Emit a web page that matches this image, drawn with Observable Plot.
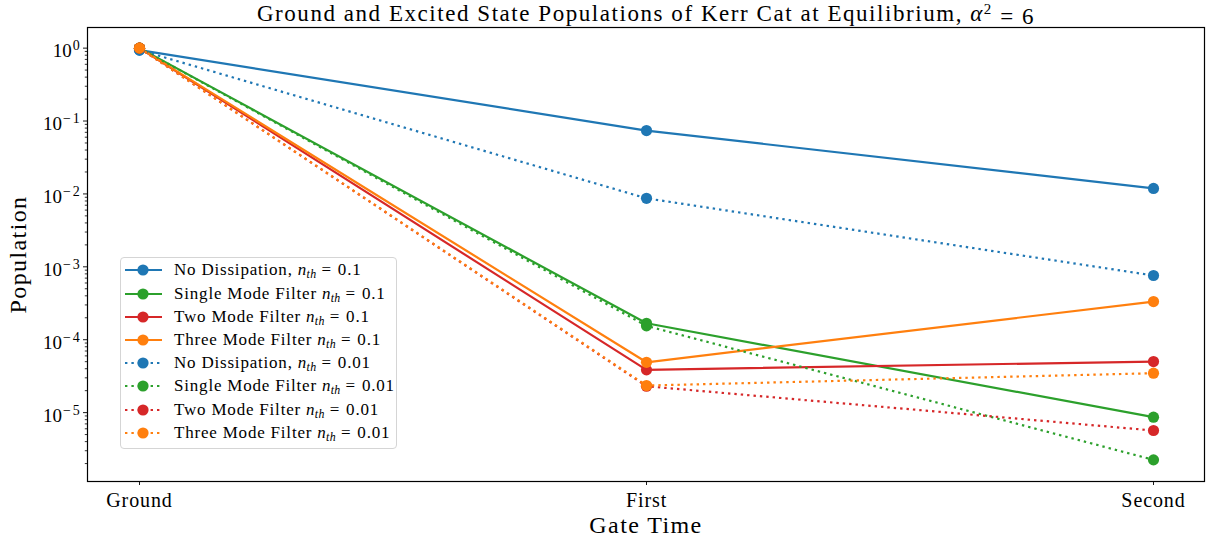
<!DOCTYPE html>
<html><head><meta charset="utf-8">
<script src="https://cdn.jsdelivr.net/npm/d3@7"></script>
<script src="https://cdn.jsdelivr.net/npm/@observablehq/plot@0.6"></script>
<style>
body{margin:0;background:#fff}
#wrap{position:relative;width:1211px;height:546px;font-family:"Liberation Serif",serif;color:#000}
#legend{position:absolute;left:120px;top:257px;width:277px;height:192px;border:1px solid #d5d5d5;border-radius:4px;background:rgba(255,255,255,0.8);box-sizing:border-box}
.row{position:absolute;left:0;height:20px;width:100%}
.row svg{position:absolute;left:2px;top:0}
.row span{position:absolute;left:53px;top:0;line-height:20px;font-size:17px;letter-spacing:0.8px;white-space:nowrap}
.row i{letter-spacing:0.3px}
.row .eq{margin:0 6px 0 5px}
sub{font-size:70%;vertical-align:-3px;line-height:0}
</style></head>
<body><div id="wrap"></div>
<script>
const categories = ["Ground", "First", "Second"];
const noDiss01   = [0.94, 0.074, 0.0119];
const single01   = [1.0, 1.68e-4, 8.65e-6];
const two01      = [1.0, 3.86e-5, 5.02e-5];
const three01    = [1.0, 4.9e-5, 3.34e-4];
const noDiss001  = [0.94, 8.7e-3, 7.6e-4];
const single001  = [1.0, 1.55e-4, 2.25e-6];
const two001     = [1.0, 2.3e-5, 5.68e-6];
const three001   = [1.0, 2.35e-5, 3.47e-5];
const seriesNames = ["No Dissipation,", "Single Mode Filter", "Two Mode Filter", "Three Mode Filter",
                     "No Dissipation,", "Single Mode Filter", "Two Mode Filter", "Three Mode Filter"];
const nthValues = ["0.1","0.1","0.1","0.1","0.01","0.01","0.01","0.01"];
const majorTicks = [1, 1e-1, 1e-2, 1e-3, 1e-4, 1e-5];
const majorExponents = ["0","−1","−2","−3","−4","−5"];
const titleText = "Ground and Excited State Populations of Kerr Cat at Equilibrium, ";
const titleMath = ["α", "2", " = 6"];
const xLabel = "Gate Time";
const yLabel = "Population";

const colors = ["#1f77b4","#2ca02c","#d62728","#ff7f0e","#1f77b4","#2ca02c","#d62728","#ff7f0e"];
const allValues = [noDiss01, single01, two01, three01, noDiss001, single001, two001, three001];
const series = allValues.map((v, i) => ({
  name: seriesNames[i], nth: nthValues[i], color: colors[i], dotted: i >= 4,
  data: categories.map((c, j) => ({cat: c, value: v[j]}))
}));
const minorTicks = [];
for (let k = -6; k <= 0; k++) for (let m = 2; m <= 9; m++) {
  const t = m * 10 ** k; if (t > 1.135e-6 && t < 1.92) minorTicks.push(t);
}
const DASH = "2.4,4";
const R = 5.6;
const marks = [
  Plot.axisY({ticks: minorTicks, tickSize: 2.2, tickFormat: () => "", strokeWidth: 0.8}),
  Plot.axisY({ticks: majorTicks, tickSize: 4, tickFormat: () => "", strokeWidth: 0.9}),
  Plot.text(majorTicks, {y: d => d, text: d => "10|" + majorExponents[majorTicks.indexOf(d)],
    frameAnchor: "left", textAnchor: "end", dx: -6, dy: 3, fontSize: 19}),
  Plot.axisX({tickSize: 4, tickPadding: 7, fontSize: 20, strokeWidth: 0.9})
];
for (const s of series) {
  marks.push(Plot.line(s.data, {x: "cat", y: "value", stroke: s.color, strokeWidth: 2.2,
    strokeDasharray: s.dotted ? DASH : null, strokeLinecap: "butt"}));
  marks.push(Plot.dot(s.data, {x: "cat", y: "value", fill: s.color, r: R, stroke: "none"}));
}
marks.push(Plot.frame({stroke: "black", strokeWidth: 1.2}));
marks.push(Plot.text([titleText], {text: d => d, frameAnchor: "top", lineAnchor: "middle", textAnchor: "middle",
  dy: -14, fontSize: 23}));
marks.push(Plot.text([yLabel], {text: d => d, frameAnchor: "left", textAnchor: "middle", lineAnchor: "middle",
  dx: -69, rotate: -90, fontSize: 24}));
marks.push(Plot.text([xLabel], {text: d => d, frameAnchor: "bottom", textAnchor: "middle", lineAnchor: "middle",
  dy: 44, fontSize: 24}));

const chart = Plot.plot({
  width: 1211, height: 546,
  marginLeft: 87, marginRight: 7, marginTop: 27, marginBottom: 65,
  x: {type: "point", domain: categories, padding: 0.1, label: null, axis: null},
  y: {type: "log", domain: [10 ** -5.945, 10 ** 0.283], label: null, axis: null},
  style: {fontFamily: "'Liberation Serif', serif", fontSize: "16px", color: "black", background: "white", overflow: "visible"},
  marks
});
const wrap = document.getElementById("wrap");
wrap.appendChild(chart);

const texts = Array.from(chart.querySelectorAll("text"));
for (const el of texts) {
  const s = el.textContent;
  const t = d3.select(el);
  if (categories.includes(s)) {
    t.style("letter-spacing", "0.9px");
  } else if (s === xLabel || s === yLabel) {
    t.style("letter-spacing", "1.4px");
  } else if (s.includes("|")) {
    const [base, exp] = s.split("|");
    t.text(null);
    t.append("tspan").text(base);
    t.append("tspan").attr("dy", "-0.5em").attr("dx", "1").style("font-size", "14px").style("letter-spacing", "1.8px").text(exp);
  } else if (s === titleText) {
    t.style("letter-spacing", "1.55px");
    t.append("tspan").style("font-style", "italic").text(titleMath[0]);
    t.append("tspan").attr("dy", "-0.45em").style("font-size", "15px").text(titleMath[1]);
    t.append("tspan").attr("dy", "0.45em").text(titleMath[2]);
  }
}

const legend = document.createElement("div");
legend.id = "legend";
series.forEach((s, i) => {
  const row = document.createElement("div");
  row.className = "row";
  row.style.top = (12.3 + i * 23.2 - 10) + "px";
  row.innerHTML = `<svg width="42" height="20"><line x1="2" y1="10" x2="39" y2="10" stroke="${s.color}" stroke-width="2.2" ${s.dotted ? `stroke-dasharray="${DASH}"` : ""}/><circle cx="20" cy="10" r="${R}" fill="${s.color}"/></svg><span>${s.name} <i>n</i><sub><i>th</i></sub><span class="eq" style="position:static">=</span>${s.nth}</span>`;
  legend.appendChild(row);
});
wrap.appendChild(legend);
</script>
</body></html>
